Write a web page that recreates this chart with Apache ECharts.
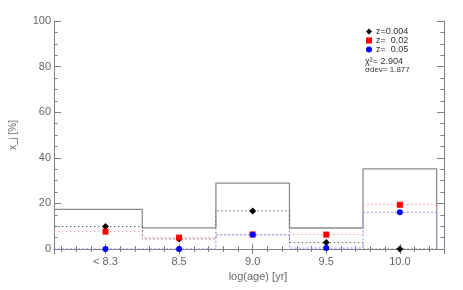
<!DOCTYPE html>
<html><head><meta charset="utf-8">
<script src="https://cdn.jsdelivr.net/npm/echarts@6/dist/echarts.min.js"></script>
<style>html,body{margin:0;padding:0;background:#fff}#c{width:463px;height:290px}</style>
</head><body><div id="c"></div>
<script>
// ---- data ----
const binCenters = [8.0, 8.5, 9.0, 9.5, 10.0];
const xTickLabels = ['< 8.3', '8.5', '9.0', '9.5', '10.0'];
const totalHist = [17.4, 9.3, 28.9, 9.2, 35.1];
const zNames = ['z=0.004', 'z=  0.02', 'z=  0.05'];
const z004 = [9.9, 4.4, 16.7, 2.8, 0.0];
const z002 = [7.6, 5.0, 6.4, 6.3, 19.4];
const z005 = [0.0, 0.0, 6.2, 0.4, 16.1];
const chi2Text = 'χ²= 2.904';
const sdevText = 'σdev= 1.877';
const xTitle = 'log(age) [yr]';
const yTitle = 'x_j [%]';

// ---- layout / style ----
const X_MIN = 7.65, X_MAX = 10.3, HALF = 0.25;
const FONT = '"Liberation Sans", Arial, sans-serif';
const AX = '#808080';

function steps(vals) {
  const pts = [];
  vals.forEach((v, i) => {
    const l = i === 0 ? X_MIN : binCenters[i] - HALF;
    const r = binCenters[i] + HALF;
    pts.push([l, v], [r, v]);
  });
  pts.push([binCenters[vals.length - 1] + HALF, 0]);
  return pts;
}
function pts(vals) { return vals.map((v, i) => [binCenters[i], v]); }

function xLabel(v) {
  for (let i = 0; i < binCenters.length; i++) if (Math.abs(binCenters[i] - v) < 1e-6) return xTickLabels[i];
  return '';
}

const chart = echarts.init(document.getElementById('c'), null, {renderer: 'canvas'});
const baseX = {
  type: 'value', min: X_MIN, max: X_MAX, splitNumber: 5,
  axisLine: {show: true, lineStyle: {color: AX, width: 1}},
  axisTick: {show: true, inside: true, length: 5, lineStyle: {color: AX}},
  minorTick: {show: true, splitNumber: 5, length: 3, lineStyle: {color: AX}},
  splitLine: {show: false}, minorSplitLine: {show: false}
};
const baseY = {
  type: 'value', min: 0, max: 100, interval: 20,
  axisLine: {show: true, lineStyle: {color: AX, width: 1}},
  axisTick: {show: true, inside: true, length: 7, lineStyle: {color: AX}},
  minorTick: {show: true, splitNumber: 4, length: 3.5, lineStyle: {color: AX}},
  splitLine: {show: false}, minorSplitLine: {show: false}
};

const colors = ['#000000', '#ff0000', '#0000ff'];
const lineColors = ['#666666', '#ff9a9a', '#8c8cff'];
const symbols = ['diamond', 'rect', 'circle'];
const symSizes = [7, 6, 6];
const zData = [z004, z002, z005];

const series = [{
  type: 'line', name: 'total', data: steps(totalHist), symbol: 'none',
  lineStyle: {color: '#8c8c8c', width: 1.3}, z: 2, silent: true
}];
zData.forEach((vals, k) => {
  series.push({
    type: 'line', name: 'step' + k, data: steps(vals), symbol: 'none',
    lineStyle: {color: lineColors[k], width: 1, type: k === 2 ? [2, 2] : [1.5, 2.5]}, z: 3 + k, silent: true
  });
});
zData.forEach((vals, k) => {
  series.push({
    type: 'scatter', name: zNames[k], data: pts(vals), symbol: symbols[k], symbolSize: symSizes[k],
    itemStyle: {color: colors[k], opacity: 1}, z: 6 + k
  });
});

const legends = zNames.map((n, k) => ({
  orient: 'vertical', left: 366, top: 27 + k * 9, itemWidth: 6, itemHeight: 6, itemGap: 0,
  padding: 0, selectedMode: false,
  textStyle: {color: '#333', fontSize: 9, fontFamily: FONT, padding: [0, 0, 0, -1]},
  data: [{name: n, icon: symbols[k]}]
}));

chart.setOption({
  animation: false,
  backgroundColor: '#fff',
  textStyle: {fontFamily: FONT},
  grid: {left: 52, right: 19, top: 21, bottom: 41, containLabel: false},
  xAxis: [
    Object.assign({}, baseX, {
      position: 'bottom',
      name: xTitle, nameLocation: 'middle', nameGap: 20,
      nameTextStyle: {color: '#666', fontSize: 11, fontFamily: FONT, padding: [0, 0, 0, 18]},
      axisLabel: {show: true, color: '#666', fontSize: 11, fontFamily: FONT, margin: 7,
        showMinLabel: false, showMaxLabel: false, formatter: xLabel}
    }),
    Object.assign({}, baseX, {position: 'top', axisLabel: {show: false}})
  ],
  yAxis: [
    Object.assign({}, baseY, {
      position: 'left',
      name: yTitle, nameLocation: 'middle', nameGap: 36,
      nameTextStyle: {color: '#666', fontSize: 10, fontFamily: FONT},
      axisLabel: {show: true, color: '#666', fontSize: 11, fontFamily: FONT, margin: 3}
    }),
    Object.assign({}, baseY, {position: 'right', axisLabel: {show: false}})
  ],
  legend: legends,
  graphic: [
    {type: 'text', left: 365, top: 57, style: {text: chi2Text, fill: '#333', fontSize: 9, fontFamily: FONT}},
    {type: 'text', left: 365, top: 66, style: {text: sdevText, fill: '#333', fontSize: 8, fontFamily: FONT}}
  ],
  series: series
});
</script>
</body></html>
